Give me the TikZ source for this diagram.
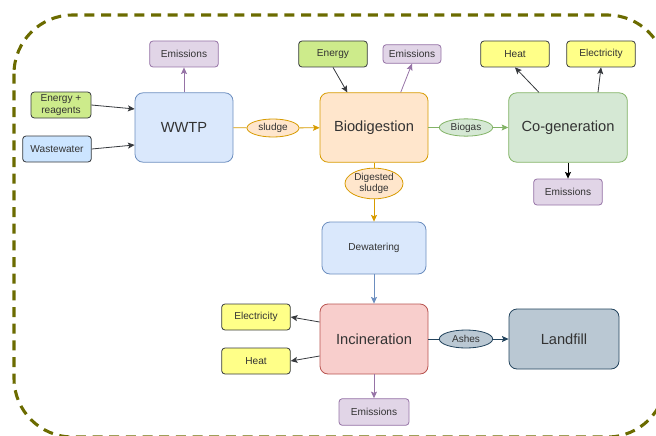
\documentclass[tikz,border=0pt]{standalone}
\usepackage{fontspec}
\setmainfont{Liberation Sans}
\usetikzlibrary{arrows.meta,shapes.geometric}
\definecolor{txt}{HTML}{333333}
\definecolor{edge}{HTML}{36393D}
\definecolor{olivedash}{HTML}{6B6B00}
\definecolor{blueF}{HTML}{DAE8FC}\definecolor{blueD}{HTML}{6C8EBF}
\definecolor{orangeF}{HTML}{FFE6CC}\definecolor{orangeD}{HTML}{D79B00}
\definecolor{greenF}{HTML}{D5E8D4}\definecolor{greenD}{HTML}{82B366}
\definecolor{redF}{HTML}{F8CECC}\definecolor{redD}{HTML}{B85450}
\definecolor{purpleF}{HTML}{E1D5E7}\definecolor{purpleD}{HTML}{9673A6}
\definecolor{greyF}{HTML}{BAC8D3}\definecolor{greyD}{HTML}{23445D}
\definecolor{limeF}{HTML}{CDEB8B}
\definecolor{skyF}{HTML}{CCE5FF}
\definecolor{yellowF}{HTML}{FFFF88}
\tikzset{
	bigbox/.style={draw, rounded corners=6pt, line width=0.6pt, minimum width=81pt, minimum height=52pt, text=txt, font=\fontsize{11}{13}\selectfont},
	smallbox/.style={draw=edge, rounded corners=2.5pt, line width=0.6pt, minimum width=51.5pt, minimum height=19.5pt, text=txt, font=\fontsize{7.6}{8.8}\selectfont, align=center, inner sep=1pt},
	emisbox/.style={smallbox, fill=purpleF, draw=purpleD},
	blob/.style={ellipse, draw, line width=0.6pt, minimum width=39pt, minimum height=13.5pt, inner sep=0pt, text=txt, font=\fontsize{7.5}{8.8}\selectfont, align=center},
	flow/.style={line width=0.6pt, -{Stealth[length=5pt,width=4.5pt,inset=1pt]}}
}
\begin{document}
\begin{tikzpicture}[x=0.75pt, y=-0.75pt]
	\useasboundingbox (0,0) rectangle (656,435);
	\begin{scope}
		\clip (0,0) rectangle (656,435);
		\draw[olivedash, line width=2.3pt, dash pattern=on 7.5pt off 5pt, rounded corners=44pt] (14,15) rectangle (666,437);
	\end{scope}

	\node[bigbox, fill=blueF, draw=blueD, minimum width=73.5pt] (wwtp) at (184,127.5) {WWTP};
	\node[bigbox, fill=orangeF, draw=orangeD] (bio) at (374,127.5) {Biodigestion};
	\node[bigbox, fill=greenF, draw=greenD, minimum width=89pt] (cogen) at (568,127.5) {Co-generation};
	\node[bigbox, fill=blueF, draw=blueD, minimum width=78pt, minimum height=39pt, font=\fontsize{7.6}{9}\selectfont] (dewat) at (374,248) {Dewatering};
	\node[bigbox, fill=redF, draw=redD, minimum height=52.5pt] (incin) at (374,339) {Incineration};
	\node[bigbox, fill=greyF, draw=greyD, minimum width=82.5pt, minimum height=45pt] (landfill) at (564,339) {Landfill};

	\node[emisbox] (emisA) at (184,54) {Emissions};
	\node[smallbox, fill=limeF, minimum width=45pt] (enrea) at (61,105) {Energy +\\reagents};
	\node[smallbox, fill=skyF] (wastew) at (57,149) {Wastewater};
	\node[smallbox, fill=limeF] (energy) at (333,54) {Energy};
	\node[emisbox, minimum width=43.5pt, minimum height=14pt] (emisB) at (412,54) {Emissions};
	\node[smallbox, fill=yellowF] (heatA) at (515,54) {Heat};
	\node[smallbox, fill=yellowF] (elecA) at (601,54) {Electricity};
	\node[emisbox] (emisC) at (568,192) {Emissions};
	\node[smallbox, fill=yellowF] (elecB) at (256,317) {Electricity};
	\node[smallbox, fill=yellowF] (heatB) at (256,361) {Heat};
	\node[emisbox, minimum width=52.5pt, minimum height=20pt] (emisD) at (374,412) {Emissions};

	\node[blob, fill=orangeF, draw=orangeD] (sludge) at (273,128) {sludge};
	\node[blob, fill=greenF, draw=greenD, minimum width=40pt, minimum height=13pt] (biogas) at (466,127.5) {Biogas};
	\node[blob, fill=orangeF, draw=orangeD, minimum width=43.5pt, minimum height=23pt] (digest) at (374,183.5) {Digested\\sludge};
	\node[blob, fill=greyF, draw=greyD, minimum width=40pt] (ashes) at (466,339) {Ashes};

	\draw[flow, purpleD] (wwtp) -- (emisA);
	\draw[flow, edge] (enrea.east) -- ([yshift=13.9pt]wwtp.west);
	\draw[flow, edge] (wastew.east) -- ([yshift=-13.1pt]wwtp.west);
	\draw[line width=0.6pt, orangeD] (wwtp) -- (sludge);
	\draw[flow, orangeD] (sludge) -- (bio);
	\draw[flow, edge] (energy.south) -- ([xshift=-20pt]bio.north);
	\draw[flow, purpleD] ([xshift=20pt]bio.north) -- (emisB.south);
	\draw[line width=0.6pt, greenD] (bio) -- (biogas);
	\draw[flow, greenD] (biogas) -- (cogen);
	\draw[flow, edge] ([xshift=-21.75pt]cogen.north) -- (heatA.south);
	\draw[flow, edge] ([xshift=22.5pt]cogen.north) -- (elecA.south);
	\draw[flow, black] (cogen) -- (emisC);
	\draw[line width=0.6pt, orangeD] (bio) -- (digest);
	\draw[flow, orangeD] (digest) -- (dewat);
	\draw[flow, blueD] (dewat) -- (incin);
	\draw[flow, edge] ([yshift=12.75pt]incin.west) -- (elecB.east);
	\draw[flow, edge] ([yshift=-12.75pt]incin.west) -- (heatB.east);
	\draw[line width=0.6pt, greyD] (incin) -- (ashes);
	\draw[flow, greyD] (ashes) -- (landfill);
	\draw[flow, purpleD] (incin) -- (emisD);
\end{tikzpicture}
\end{document}
